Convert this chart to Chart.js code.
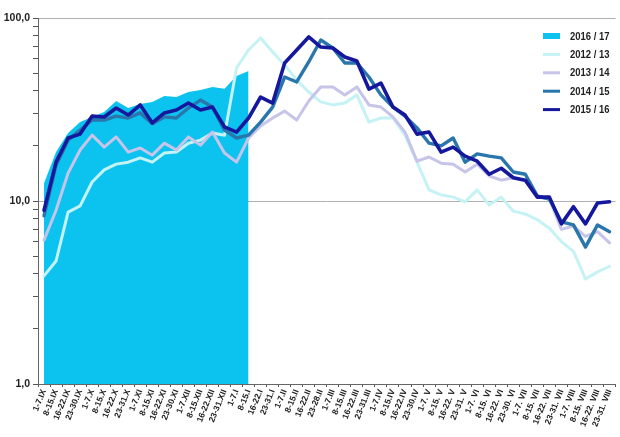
<!DOCTYPE html>
<html><head><meta charset="utf-8">
<script src="https://cdn.jsdelivr.net/npm/chart.js@4/dist/chart.umd.min.js"></script>
<style>html,body{margin:0;padding:0;background:#fff;overflow:hidden}#wrap{width:620px;height:437px;position:relative}</style>
</head><body><div id="wrap"><canvas id="c" width="620" height="437"></canvas></div>
<script>
const categories = ['1-7.IX','8-15.IX','16-22.IX','23-30.IX','1-7.X','8-15.X','16-22.X','23-31.X','1-7.XI','8-15.XI','16-22.XI','23-30.XI','1-7.XII','8-15.XII','16-22.XII','23-31.XII','1-7.I','8-15.I','16-22.I','23-31.I','1-7.II','8-15.II','16-22.II','23-28.II','1-7.III','8-15.III','16-22.III','23-31.III','1-7.IV','8-15.IV','16-22.IV','23-30.IV','1-7. V','8-15. V','16-22. V','23-31. V','1-7. VI','8-15. VI','16-22. VI','23-30. VI','1-7. VII','8-15. VII','16-22. VII','23-31. VII','1-7. VIII','8-15. VIII','16-22. VIII','23-31. VIII'];

const seriesLabels = ['2016 / 17','2012 / 13','2013 / 14','2014 / 15','2015 / 16'];

const s2016_17 = [12.5,18.5,23.5,27.0,28.8,30.6,35.2,32.2,33.9,34.8,37.5,37.0,39.4,40.4,42.0,41.0,48.2,51.3,
  null,null,null,null,null,null,null,null,null,null,null,null,null,null,null,null,null,null,null,null,null,null,null,null,null,null,null,null,null,null];
const s2012_13 = [3.9,4.7,8.7,9.4,12.7,14.8,15.9,16.3,17.2,16.3,18.3,18.5,20.7,21.5,23.5,22.9,53.3,66.9,77.8,65.2,55.4,45.8,39.4,34.8,33.5,34.3,38.0,27.0,28.4,28.4,22.9,16.3,11.5,10.8,10.5,9.9,11.5,9.5,10.5,8.8,8.5,7.9,7.1,6.0,5.3,3.75,4.1,4.4];
const s2013_14 = [6.1,8.9,14.2,19.0,22.9,19.7,22.4,18.5,19.5,17.8,20.7,19.0,22.4,20.2,23.8,18.3,16.3,22.1,25.7,28.4,31.0,27.7,35.2,42.0,42.0,38.0,42.0,33.5,32.6,28.8,23.8,16.5,17.4,16.1,15.9,14.4,15.9,13.7,13.0,13.4,12.9,10.5,10.25,7.0,7.3,6.4,6.8,5.9];
const s2014_15 = [8.3,15.7,21.5,24.4,27.7,27.7,29.1,28.4,30.3,26.4,28.8,28.4,32.2,35.6,32.6,24.4,22.1,22.9,27.0,32.6,47.6,44.7,57.5,75.8,68.6,56.8,56.8,47.6,38.0,32.6,29.1,25.1,20.7,20.0,22.1,16.3,18.1,17.6,17.2,14.4,14.0,10.65,10.25,7.7,7.4,5.6,7.4,6.8];
const s2015_16 = [8.9,16.3,22.1,23.2,29.1,28.8,32.2,29.5,33.5,26.7,30.3,31.4,34.3,31.4,32.6,25.4,23.8,28.4,37.0,34.3,56.8,66.9,78.8,69.4,68.6,61.2,58.2,40.9,44.1,32.6,29.5,23.2,23.8,18.5,19.7,17.6,16.5,14.0,15.1,13.4,13.0,10.5,10.5,7.5,9.3,7.5,9.75,9.9];

const yTickValues = [1,2,3,4,5,6,7,8,9,10,20,30,40,50,60,70,80,90,100];
const yLabelValues = [1,10,100];

const colors = ['#0cc3ef','#c4f2f5','#c6c4e8','#2876ab','#15179c'];
const FONT = "'Liberation Sans', Arial, sans-serif";

const legendPlugin = {
  id: 'customLegend',
  afterDraw(chart) {
    const ctx = chart.ctx;
    ctx.save();
    const x0 = 543, x1 = 560, tx = 570, y0 = 36, dy = 18.4;
    seriesLabels.forEach((lab, i) => {
      const y = y0 + i * dy;
      ctx.strokeStyle = colors[i];
      ctx.lineWidth = i === 0 ? 6 : 3;
      ctx.lineCap = 'butt';
      ctx.beginPath(); ctx.moveTo(x0, y); ctx.lineTo(x1, y); ctx.stroke();
      ctx.save();
      ctx.translate(tx, y);
      ctx.scale(0.86, 1);
      ctx.fillStyle = '#222';
      ctx.font = 'bold 11px ' + FONT;
      ctx.textBaseline = 'middle';
      ctx.textAlign = 'left';
      ctx.fillText(lab, 0, 0.5);
      ctx.restore();
    });
    ctx.restore();
  }
};

const lineDs = (label, data, color, width, order) => ({
  label, data, borderColor: color, backgroundColor: color, borderWidth: width,
  pointRadius: 0, pointHoverRadius: 0, tension: 0, fill: false, order,
  borderJoinStyle: 'round', borderCapStyle: 'round'
});

new Chart(document.getElementById('c'), {
  type: 'line',
  data: {
    labels: categories,
    datasets: [
      { label: seriesLabels[0], data: s2016_17, borderWidth: 0, borderColor: colors[0], backgroundColor: colors[0],
        fill: 'start', pointRadius: 0, tension: 0, spanGaps: false, order: 5 },
      lineDs(seriesLabels[1], s2012_13, colors[1], 3, 4),
      lineDs(seriesLabels[2], s2013_14, colors[2], 3, 3),
      lineDs(seriesLabels[3], s2014_15, colors[3], 3.4, 2),
      lineDs(seriesLabels[4], s2015_16, colors[4], 3.6, 1)
    ]
  },
  options: {
    responsive: false,
    animation: false,
    devicePixelRatio: 1,
    layout: { padding: { top: 18, right: 0, left: 0, bottom: 0 } },
    plugins: { legend: { display: false }, tooltip: { enabled: false } },
    scales: {
      x: {
        type: 'category',
        offset: true,
        grid: { display: true, drawOnChartArea: false, drawTicks: true, tickLength: 3, offset: true, tickColor: '#555' },
        border: { display: true, color: '#666', width: 1 },
        ticks: { autoSkip: false, minRotation: 68, maxRotation: 68, padding: 1, color: '#222',
                 font: { family: FONT, size: 8.5, weight: 'bold' } },
        afterFit(s) { s.height = 53; }
      },
      y: {
        type: 'logarithmic',
        min: 1, max: 100,
        afterBuildTicks(scale) {
          scale.ticks = yTickValues.map(v => ({ value: v, major: yLabelValues.includes(v) }));
        },
        ticks: {
          autoSkip: false, padding: 3, color: '#222',
          font: { family: FONT, size: 10.5, weight: 'bold' },
          callback: (v) => yLabelValues.includes(v) ? v.toFixed(1).replace('.', ',') : ''
        },
        grid: {
          drawTicks: true, tickLength: 5, tickColor: '#555',
          color: (c) => (c.tick && (c.tick.value === 10 || c.tick.value === 100)) ? '#b0b0b0' : 'rgba(0,0,0,0)'
        },
        border: { display: true, color: '#666', width: 1 },
        afterFit(s) { s.width = 38; }
      }
    }
  },
  plugins: [legendPlugin]
});
</script>
</body></html>
